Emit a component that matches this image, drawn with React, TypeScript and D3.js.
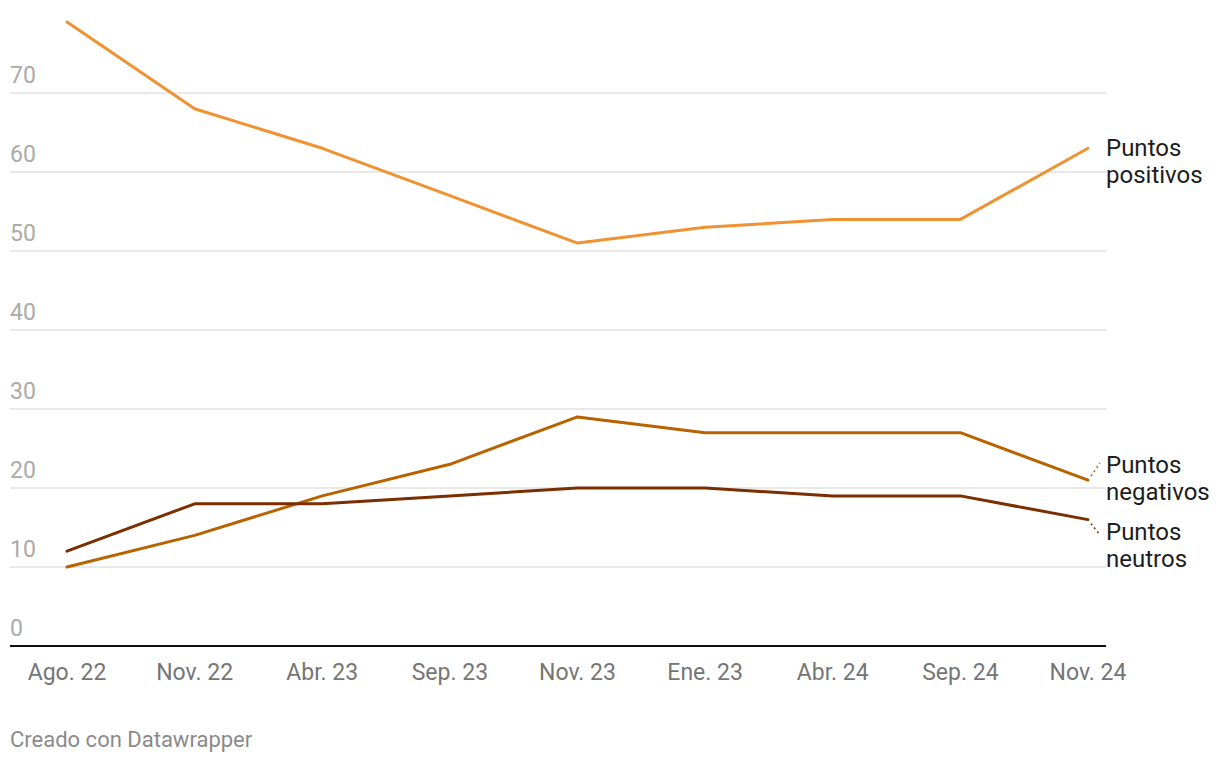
import React from "react";
import * as d3 from "d3";

const categories = ["Ago. 22", "Nov. 22", "Abr. 23", "Sep. 23", "Nov. 23", "Ene. 23", "Abr. 24", "Sep. 24", "Nov. 24"];
const positivos = [79, 68, 63, 57, 51, 53, 54, 54, 63];
const negativos = [10, 14, 19, 23, 29, 27, 27, 27, 21];
const neutros = [12, 18, 18, 19, 20, 20, 19, 19, 16];
const yTicks = [0, 10, 20, 30, 40, 50, 60, 70];

const series = [
  { name: ["Puntos", "positivos"], values: positivos, color: "#f09232", labelY: 156, dot: false },
  { name: ["Puntos", "negativos"], values: negativos, color: "#b86300", labelY: 473, dot: true },
  { name: ["Puntos", "neutros"], values: neutros, color: "#7b2e00", labelY: 540, dot: true },
];

export default function App() {
  const W = 1220, H = 762;
  const left = 10, right = 1106;
  const x = d3.scalePoint<string>().domain(categories).range([67, 1088]);
  const y = d3.scaleLinear().domain([0, 70]).range([646, 93]);
  const line = d3.line<number>().x((_, i) => x(categories[i])!).y((d) => y(d));
  const font = "Roboto, 'Noto Sans', sans-serif";
  return (
    <svg width={W} height={H} style={{ position: "absolute", left: 0, top: 0, fontFamily: font }}>
      <rect width={W} height={H} fill="#fff" />
      {yTicks.map((t) => (
        <g key={t}>
          {t > 0 && <line x1={left} x2={right} y1={y(t)} y2={y(t)} stroke="#e2e2e2" strokeWidth={1.5} />}
          <text x={left} y={y(t) - 10} fontSize={23} fill="#aaaaaa">{t}</text>
        </g>
      ))}
      <line x1={left} x2={right} y1={y(0)} y2={y(0)} stroke="#111" strokeWidth={2} />
      {categories.map((c) => (
        <text key={c} x={x(c)} y={680} fontSize={23} fill="#757575" textAnchor="middle">{c}</text>
      ))}
      {series.map((s) => (
        <path key={s.name[1]} d={line(s.values)!} fill="none" stroke={s.color} strokeWidth={3} strokeLinejoin="round" strokeLinecap="round" />
      ))}
      {series.map((s) => {
        const lx = x(categories[categories.length - 1])!;
        const ly = y(s.values[s.values.length - 1]);
        const below = s.labelY - 8 > ly;
        return (
          <g key={"l" + s.name[1]}>
            {s.dot && (
              <line x1={lx + 3} y1={ly + (below ? 4 : -4)} x2={1100} y2={below ? s.labelY - 5 : s.labelY - 10}
                stroke={s.color} strokeWidth={1.5} strokeDasharray="2,3" />
            )}
            <text x={1106} y={s.labelY} fontSize={24} fill="#1d1d1d">{s.name[0]}</text>
            <text x={1106} y={s.labelY + 27} fontSize={24} fill="#1d1d1d">{s.name[1]}</text>
          </g>
        );
      })}
      <text x={10} y={747} fontSize={22} fill="#8a8a8a">Creado con Datawrapper</text>
    </svg>
  );
}
